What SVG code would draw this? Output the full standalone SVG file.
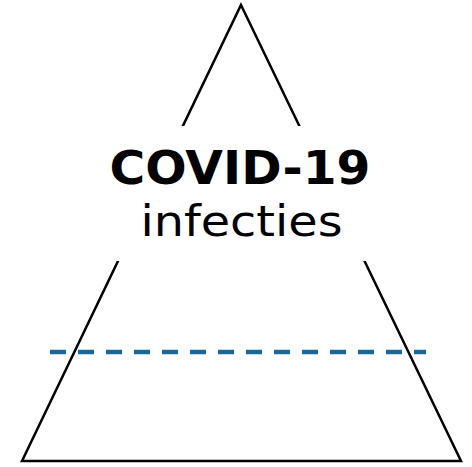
<svg xmlns="http://www.w3.org/2000/svg" width="472" height="467" viewBox="0 0 472 467">
  <style>
    .edge { fill: none; stroke: #000; stroke-width: 2.5; stroke-linejoin: miter; }
    .dash { fill: none; stroke: #1c6a9c; stroke-width: 4.5; stroke-dasharray: 16 12; }
    .title { font-family: "DejaVu Sans", Verdana, sans-serif; font-weight: bold; font-size: 46px; fill: #000; }
    .sub { font-family: "DejaVu Sans", Verdana, sans-serif; font-size: 42px; fill: #000; }
  </style>
  <rect width="472" height="467" fill="#fff"/>
  <g id="connectors">
    <line class="dash" x1="50" y1="352" x2="426" y2="352"/>
  </g>
  <g id="pyramid">
    <polygon class="edge" points="241,5 461,461 22,461"/>
  </g>
  <g id="label">
    <rect x="100" y="126" width="290" height="135" fill="#fff"/>
    <text class="title" x="240" y="184" text-anchor="middle" textLength="261" lengthAdjust="spacingAndGlyphs">COVID-19</text>
    <text class="sub" x="241.5" y="236" text-anchor="middle" textLength="202" lengthAdjust="spacingAndGlyphs">infecties</text>
  </g>
</svg>
